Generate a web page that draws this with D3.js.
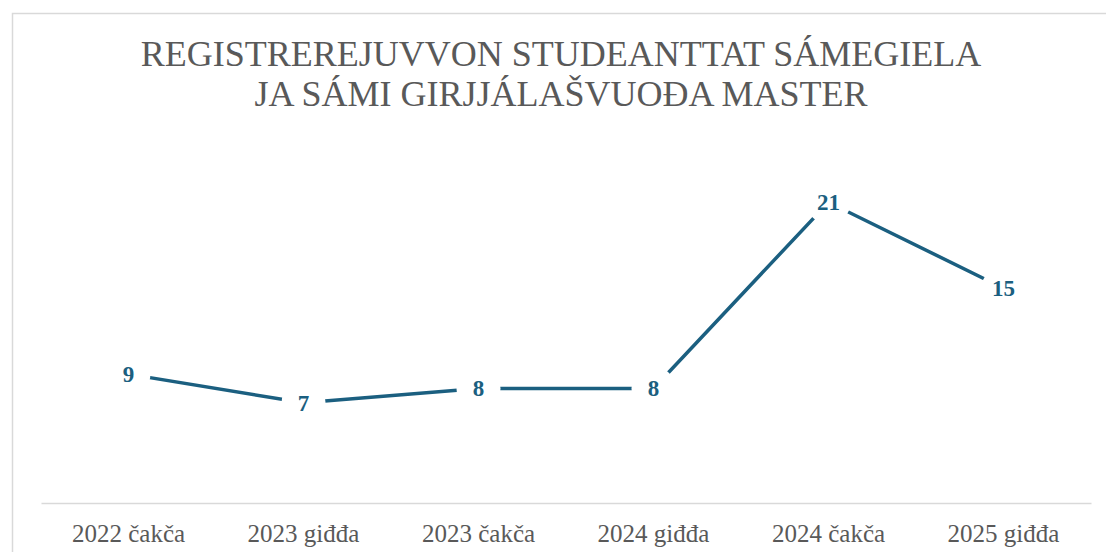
<!DOCTYPE html>
<html>
<head>
<meta charset="utf-8">
<script src="https://cdn.jsdelivr.net/npm/d3@7"></script>
<style>
  body { margin: 0; background: #fff; }
  svg { display: block; }
</style>
</head>
<body>
<div class="canvas"></div>
<script>
const categories = ['2022 čakča', '2023 giđđa', '2023 čakča', '2024 giđđa', '2024 čakča', '2025 giđđa'];
const students = [9, 7, 8, 8, 21, 15];
const titleLines = ['REGISTREREJUVVON STUDEANTTAT SÁMEGIELA', 'JA SÁMI GIRJJÁLAŠVUOĐA MASTER'];

const dims = {width: 1106, height: 552};
const lineColor = '#1b5f80';

const svg = d3.select('.canvas')
    .append('svg')
    .attr('width', dims.width)
    .attr('height', dims.height);

// chart frame (cut off on the right and bottom)
svg.append('path')
    .attr('d', `M12.5,${dims.height} V13.5 H${dims.width}`)
    .attr('fill', 'none')
    .attr('stroke', '#d9d9d9')
    .attr('stroke-width', 1.5);

svg.append('text')
    .attr('text-anchor', 'middle')
    .attr('fill', '#595959')
    .attr('font-family', '"Liberation Serif", "Times New Roman", serif')
    .attr('font-size', 36)
    .selectAll('tspan')
    .data(titleLines)
    .enter()
    .append('tspan')
    .attr('x', 561)
    .attr('y', (d, i) => 66 + i * 40)
    .text(d => d);

const x = d3.scaleBand()
    .domain(categories)
    .range([41, 1091]);

const y = d3.scaleLinear()
    .domain([0, 25])
    .range([503, 145]);

const xAxis = svg.append('g')
    .attr('transform', `translate(0, ${y(0)})`)
    .call(d3.axisBottom(x).tickSize(0).tickPadding(21));

xAxis.select('.domain')
    .attr('stroke', '#d9d9d9')
    .attr('stroke-width', 1.5);

xAxis.selectAll('text')
    .attr('fill', '#595959')
    .attr('font-family', '"Liberation Serif", "Times New Roman", serif')
    .attr('font-size', 25);

const points = categories.map((c, i) => ({cat: c, value: students[i]}));
const cx = d => x(d.cat) + x.bandwidth() / 2;

svg.append('path')
    .datum(points)
    .attr('fill', 'none')
    .attr('stroke', lineColor)
    .attr('stroke-width', 3.5)
    .attr('d', d3.line().x(cx).y(d => y(d.value)));

// white discs keep the line clear of the labels
svg.selectAll('.gap')
    .data(points)
    .enter()
    .append('circle')
    .attr('class', 'gap')
    .attr('cx', cx)
    .attr('cy', d => y(d.value))
    .attr('r', 22)
    .attr('fill', '#fff');

svg.selectAll('.label')
    .data(points)
    .enter()
    .append('text')
    .attr('class', 'label')
    .attr('x', cx)
    .attr('y', d => y(d.value))
    .attr('dy', '0.35em')
    .attr('text-anchor', 'middle')
    .attr('fill', lineColor)
    .attr('font-family', '"Liberation Serif", "Times New Roman", serif')
    .attr('font-weight', 'bold')
    .attr('font-size', 23)
    .text(d => d.value);
</script>
</body>
</html>
